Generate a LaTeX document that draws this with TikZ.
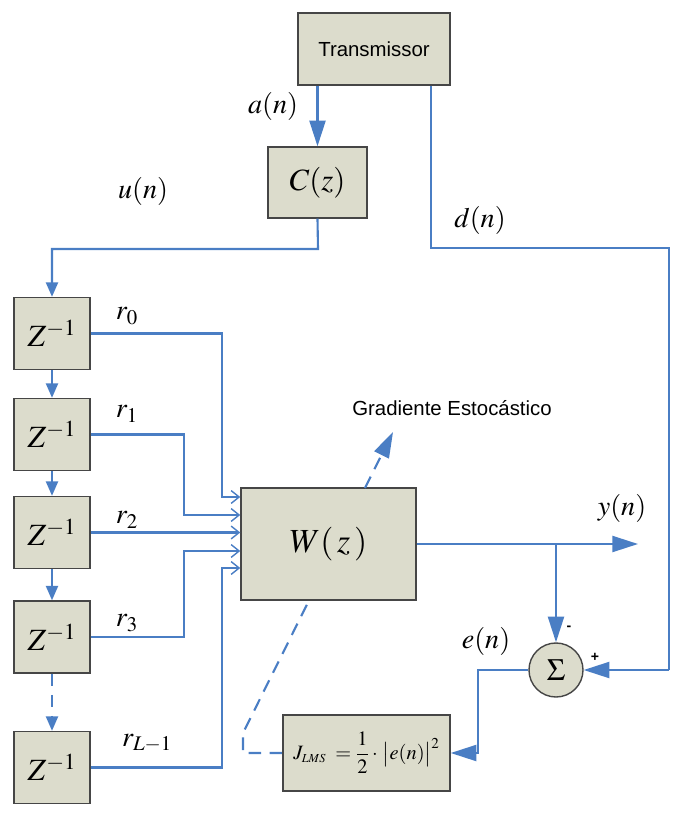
\documentclass[tikz,border=0pt]{standalone}
\usepackage{amsmath}
\usepackage{mathptmx}
\usepackage[no-math]{fontspec}
\setmainfont{Liberation Serif}
\setsansfont{Liberation Sans}
\usepackage{xcolor}
\usepackage{tikz}
\usetikzlibrary{arrows.meta,positioning,shapes,backgrounds}

\definecolor{lnblue}{RGB}{74,126,196}
\definecolor{boxfill}{RGB}{220,220,204}
\definecolor{boxline}{RGB}{70,70,70}

\tikzset{
  blk/.style={draw=boxline,line width=1pt,fill=boxfill,inner sep=0pt},
  sig/.style={draw=lnblue,line width=1.5pt},
  bigarr/.style={-{Triangle[length=0.64cm,width=0.4cm]},lnblue},
  smallarr/.style={-{Triangle[length=0.36cm,width=0.3cm]},lnblue},
  openarr/.style={-{Straight Barb[length=0.2cm,width=0.32cm,line width=1pt]}},
  lbl/.style={font=\fontsize{20}{24}\selectfont},
  big/.style={font=\fontsize{22}{26}\selectfont},
  sanslbl/.style={font=\sffamily\fontsize{14.5}{17}\selectfont}
}

\begin{document}
\begin{tikzpicture}[x=0.025cm,y=-0.025cm]
\useasboundingbox (0,0) rectangle (672,828);

% blocks
\node[blk,sanslbl,minimum width=3.8cm,minimum height=1.8cm] (tx) at (374,49) {Transmissor};
\node[blk,big,minimum width=2.475cm,minimum height=1.775cm] (cz) at (317.5,182.5) {$C(z)$};
\foreach \i/\yy in {0/333.5,1/434.5,2/532.5,3/637,4/767.5}
  \node[blk,big,minimum width=1.9cm,minimum height=1.8cm] (z\i) at (52,\yy) {$Z^{-1}$};
\node[blk,minimum width=4.375cm,minimum height=2.8cm,font=\fontsize{24}{28}\selectfont] (w) at (328.5,544) {$W(\,z\,)$};
\node[blk,minimum width=4.175cm,minimum height=1.9cm] (j) at (366.5,753)
  {\fontsize{14.5}{17}\selectfont$J_{\scriptscriptstyle LMS}\;=\dfrac{1}{2}\cdot\,\bigl|e(n)\bigr|^{2}$};
\node[circle,blk,big,minimum size=1.35cm] (sum) at (556,670) {$\Sigma$};

% helper points
\coordinate (cu) at (318,249);
\coordinate (zu) at (52,249);
\coordinate (dd) at (431,248);
\coordinate (dr) at (669,248);
\coordinate (sr) at (669,670);
\coordinate (yo) at (638,544);
\coordinate (br) at (556,544);
\coordinate (ec) at (478,670);
\coordinate (jc) at (243,733);
\coordinate (gs) at (393,432);

% transmitter paths
\draw[sig,bigarr] (tx.south -| cz.north) -- (cz.north);
\draw[sig,smallarr] (cz.south) -- (cu) -- (zu) -- (z0.north);
\draw[sig] (tx.south -| dd) -- (dd) -- (dr) -- (sr);
\draw[sig,bigarr] (sr) -- (sum.east);

% delay line
\foreach \a/\b in {0/1,1/2,2/3}
  \draw[sig,smallarr] (z\a.south) -- (z\b.north);
\draw[sig,dashed,dash pattern=on 9pt off 6pt,smallarr] (z3.south) -- (z4.north);

% taps into W
\draw[sig,openarr] (z0.east) -- (222,333.5) -- (222,497) -- (w.west |- 0,497);
\draw[sig,openarr] (z1.east) -- (184,434.5) -- (184,515) -- (w.west |- 0,515);
\draw[sig,openarr] (z2.east) -- (w.west |- 0,532.5);
\draw[sig,openarr] (z3.east) -- (184,637) -- (184,551) -- (w.west |- 0,551);
\draw[sig,openarr] (z4.east) -- (222,767.5) -- (222,568) -- (w.west |- 0,568);

% output and error
\draw[sig,bigarr] (w.east) -- (yo);
\draw[sig,bigarr] (br) -- (sum.north);
\draw[sig,bigarr] (sum.west) -- (ec) -- (ec |- j.east) -- (j.east);

% stochastic gradient
\begin{pgfonlayer}{background}
\draw[sig,dashed,dash pattern=on 9pt off 6pt] (j.west) -- (jc |- j.west) -- (jc) -- (365,488);
\end{pgfonlayer}
\draw[sig,dashed,dash pattern=on 9pt off 6pt,bigarr] (365,488) -- (gs);

% labels
\node[lbl] (la) at (273,106) {$a(n)$};
\node[lbl] (lu) at (143,191) {$u(n)$};
\node[lbl] (ld) at (480,220) {$d(n)$};
\node[lbl] (r0) at (127,316) {$r_{0}$};
\node[lbl] (r1) at (127,414) {$r_{1}$};
\node[lbl] (r2) at (127,520) {$r_{2}$};
\node[lbl] (r3) at (127,623) {$r_{3}$};
\node[lbl] (rl) at (147,743) {$r_{L-1}$};
\node[sanslbl] (lg) at (452,408) {Gradiente Estocástico};
\node[lbl] (ly) at (622,508) {$y(n)$};
\node[lbl] (le) at (486,641) {$e(n)$};
\node[font=\sffamily\bfseries\fontsize{10}{12}\selectfont] (lm) at (569,628) {-};
\node[font=\sffamily\bfseries\fontsize{10}{12}\selectfont] (lp) at (595,657) {+};
\end{tikzpicture}
\end{document}
